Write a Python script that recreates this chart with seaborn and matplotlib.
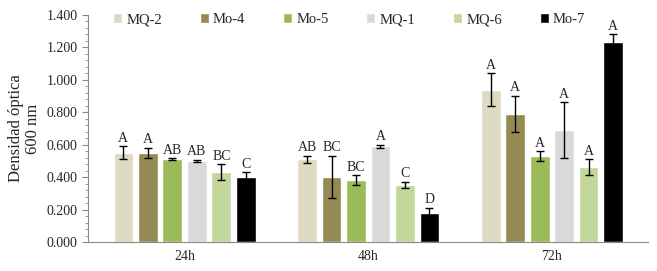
import pandas as pd
import matplotlib.pyplot as plt
import seaborn as sns
from matplotlib.ticker import MultipleLocator, FuncFormatter

# data
tiempos = ['24h', '48h', '72h']
cepas = ['MQ-2', 'Mo-4', 'Mo-5', 'MQ-1', 'MQ-6', 'Mo-7']
colores = ['#DDD9C3', '#948A54', '#9BBB59', '#D9D9D9', '#C3D69B', '#000000']

mq2 = [0.55, 0.51, 0.94]
mo4 = [0.55, 0.40, 0.79]
mo5 = [0.51, 0.38, 0.53]
mq1 = [0.50, 0.59, 0.69]
mq6 = [0.43, 0.35, 0.46]
mo7 = [0.40, 0.18, 1.23]

err_mq2 = [0.04, 0.02, 0.10]
err_mo4 = [0.03, 0.13, 0.11]
err_mo5 = [0.005, 0.03, 0.03]
err_mq1 = [0.005, 0.01, 0.17]
err_mq6 = [0.05, 0.02, 0.05]
err_mo7 = [0.03, 0.03, 0.05]

let_mq2 = ['A', 'AB', 'A']
let_mo4 = ['A', 'BC', 'A']
let_mo5 = ['AB', 'BC', 'A']
let_mq1 = ['AB', 'A', 'A']
let_mq6 = ['BC', 'C', 'A']
let_mo7 = ['C', 'D', 'A']

valores = [mq2, mo4, mo5, mq1, mq6, mo7]
errores = [err_mq2, err_mo4, err_mo5, err_mq1, err_mq6, err_mo7]
letras = [let_mq2, let_mo4, let_mo5, let_mq1, let_mq6, let_mo7]

rows = []
for c, v, e, l in zip(cepas, valores, errores, letras):
    for t, vi, ei, li in zip(tiempos, v, e, l):
        rows.append({'tiempo': t, 'cepa': c, 'od': vi, 'err': ei, 'letra': li})
df = pd.DataFrame(rows)

sns.set_style('white')
plt.rcParams['font.family'] = ['Liberation Serif', 'DejaVu Serif']

fig, ax = plt.subplots(figsize=(6.57, 2.71), dpi=100)
fig.subplots_adjust(left=0.134, right=0.987, top=0.945, bottom=0.107)

sns.barplot(data=df, x='tiempo', y='od', hue='cepa', hue_order=cepas,
            palette=colores, errorbar=None, gap=0.2, width=0.8,
            saturation=1, ax=ax)

# error bars and letters on top of each bar
for i, c in enumerate(cepas):
    cont = ax.containers[i]
    sub = df[df['cepa'] == c].set_index('tiempo').loc[tiempos]
    xs = [p.get_x() + p.get_width() / 2 for p in cont]
    ax.errorbar(xs, sub['od'], yerr=sub['err'], fmt='none', ecolor='black',
                elinewidth=1, capsize=3, capthick=1)
    for x, v, e, l in zip(xs, sub['od'], sub['err'], sub['letra']):
        ax.text(x, v + e + 0.01, l, ha='center', va='bottom', fontsize=10)

ax.set_ylim(0, 1.4)
ax.yaxis.set_major_locator(MultipleLocator(0.2))
ax.yaxis.set_minor_locator(MultipleLocator(0.04))
ax.yaxis.set_major_formatter(FuncFormatter(lambda v, p: f'{v:.3f}'))
ax.tick_params(axis='y', which='major', length=4, width=0.8, color='#888888',
               direction='out', left=True, labelsize=10)
ax.tick_params(axis='y', which='minor', length=2, width=0.6, color='#888888',
               direction='out', left=True)
ax.tick_params(axis='x', length=0, labelsize=10, pad=6)
ax.set_xlabel('')
ax.set_ylabel('Densidad óptica\n600 nm', fontsize=12, linespacing=1.1)

for s in ['top', 'right']:
    ax.spines[s].set_visible(False)
for s in ['left', 'bottom']:
    ax.spines[s].set_color('#888888')
    ax.spines[s].set_linewidth(0.8)

ax.legend(loc='upper center', bbox_to_anchor=(0.466, 1.065), ncol=6,
          frameon=False, fontsize=10.5, handlelength=0.6, handleheight=0.6,
          handletextpad=0.3, columnspacing=2.6)

fig.savefig('out.png', dpi=100)
